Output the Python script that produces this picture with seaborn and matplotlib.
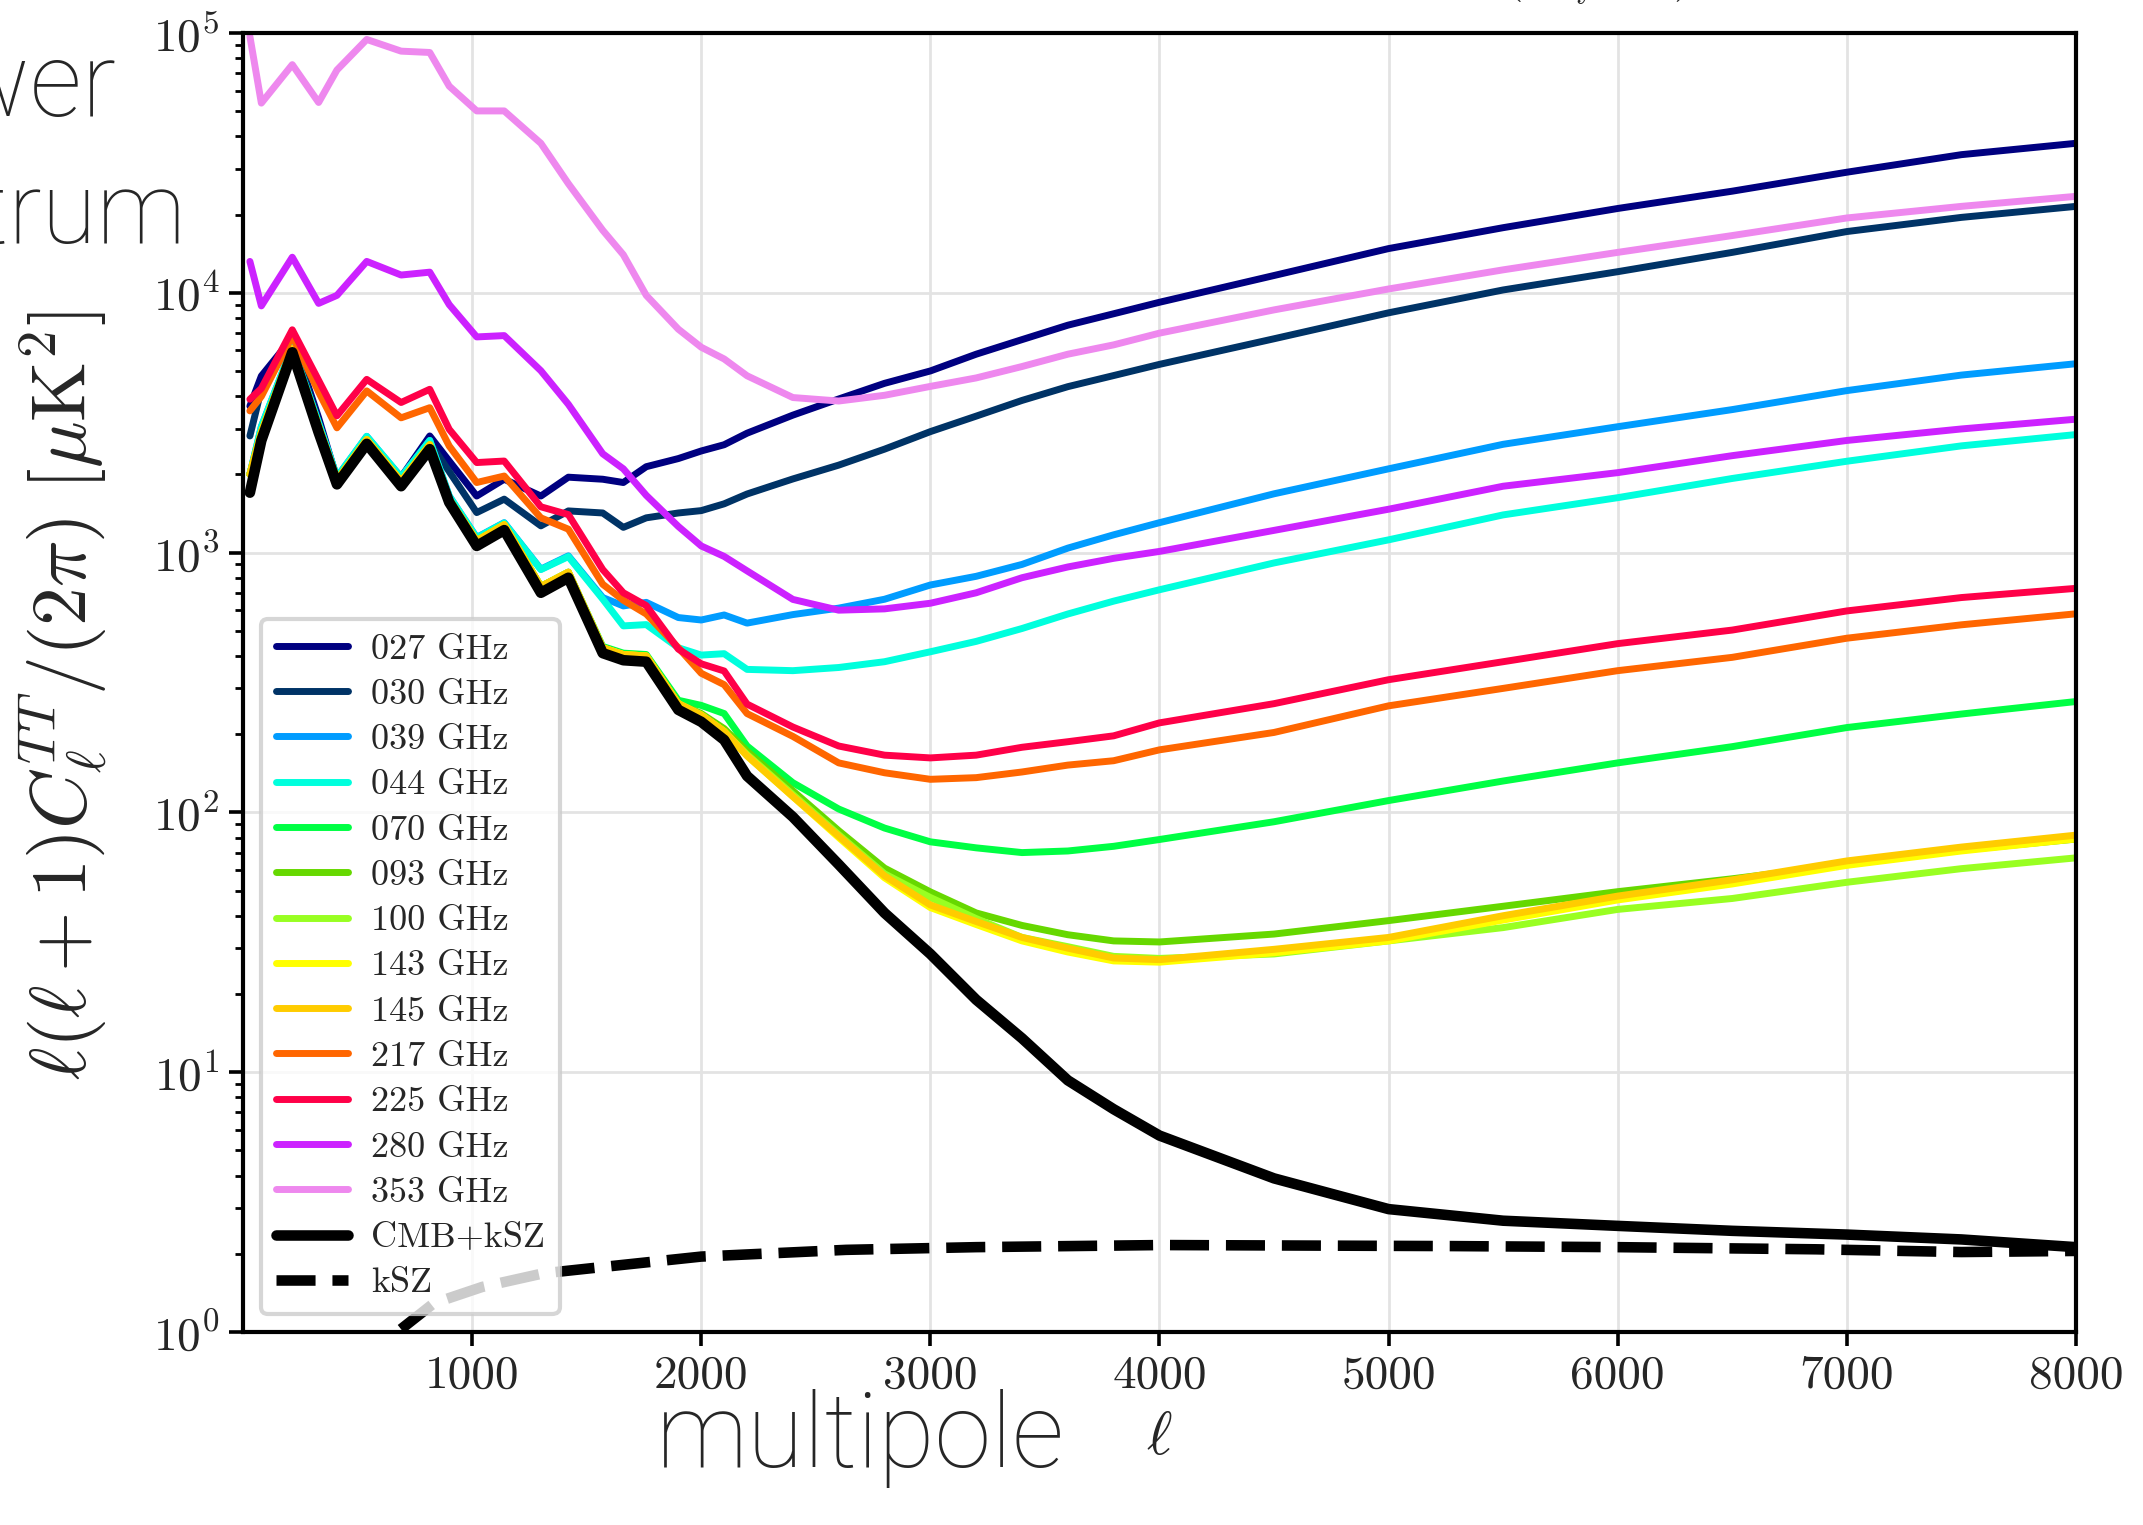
import numpy as np
import pandas as pd
import seaborn as sns
import matplotlib
matplotlib.use("Agg")
import matplotlib.pyplot as plt

ELL = [30, 80, 215, 330, 410, 540, 690, 815, 900, 1020, 1140, 1300, 1420, 1570, 1660,
       1760, 1900, 2000, 2100, 2200, 2400, 2600, 2800, 3000, 3200, 3400, 3600, 3800,
       4000, 4500, 5000, 5500, 6000, 6500, 7000, 7500, 8000]

FREQ_LABELS = ["027 GHz", "030 GHz", "039 GHz", "044 GHz", "070 GHz", "093 GHz", "100 GHz",
               "143 GHz", "145 GHz", "217 GHz", "225 GHz", "280 GHz", "353 GHz"]
FREQ_COLORS = ["#000080", "#003366", "#009cff", "#00ffdd", "#00ff44", "#66d800", "#99ff22",
               "#ffff00", "#ffcc00", "#ff6600", "#ff0048", "#cc22ff", "#ee88ee"]

c027 = [3660, 4780, 6710, 3300, 1915, 2690, 1950, 2810, 2250, 1650, 1915, 1650, 1950, 1915, 1860,
        2140, 2300, 2460, 2600, 2880, 3380, 3900, 4480, 5000, 5800, 6600, 7500, 8300,
        9190, 11650, 14790, 17800, 21100, 24600, 29100, 34000, 37600]
c030 = [2810, 4250, 6520, 3200, 1860, 2610, 1900, 2650, 2050, 1425, 1605, 1267, 1446, 1420, 1250,
        1360, 1420, 1450, 1540, 1680, 1920, 2170, 2500, 2920, 3350, 3850, 4350, 4800,
        5300, 6650, 8370, 10250, 12050, 14300, 17200, 19500, 21500]
c039 = [2000, 3050, 6200, 3150, 1950, 2800, 1950, 2700, 1650, 1143, 1303, 863, 971, 671, 623,
        643, 562, 550, 575, 535, 577, 611, 661, 750, 810, 900, 1040, 1170,
        1303, 1683, 2100, 2610, 3050, 3550, 4200, 4820, 5330]
c044 = [2000, 3050, 6200, 3150, 1950, 2800, 1950, 2700, 1650, 1140, 1300, 860, 965, 662, 522,
        528, 430, 403, 408, 355, 351, 361, 380, 415, 455, 510, 580, 650,
        719, 912, 1119, 1396, 1626, 1928, 2246, 2574, 2845]
c070 = [2000, 2900, 6100, 3050, 1900, 2720, 1880, 2600, 1600, 1110, 1280, 740, 840, 435, 410,
        405, 270, 258, 240, 180, 130, 103, 87, 77, 73, 70, 71, 74,
        78.6, 92, 111, 132, 155, 179, 212, 239, 267]
c093 = [2000, 2900, 6100, 3050, 1900, 2720, 1880, 2600, 1600, 1110, 1280, 740, 840, 430, 405,
        400, 262, 240, 210, 172, 121, 85, 61, 49.4, 41, 36.7, 33.8, 32,
        31.7, 34, 38.3, 43.5, 49.5, 55.5, 63, 71.6, 78.9]
c100 = [2000, 2900, 6100, 3050, 1900, 2720, 1880, 2600, 1600, 1110, 1280, 740, 840, 430, 405,
        400, 262, 237, 205, 167, 117, 82, 58, 47, 39, 33, 30.4, 27.9,
        27.4, 28.5, 32, 36, 42.3, 46.6, 53.8, 60.7, 66.8]
c143 = [2000, 2900, 6100, 3050, 1900, 2720, 1880, 2600, 1600, 1110, 1280, 740, 840, 430, 405,
        400, 262, 237, 205, 165, 115, 80, 56, 43, 37, 32, 29, 26.8,
        26.5, 28.8, 32, 38.5, 46, 53, 62.5, 71, 79]
c145 = [2000, 2900, 6100, 3050, 1900, 2720, 1880, 2600, 1600, 1110, 1280, 740, 840, 430, 405,
        400, 262, 237, 205, 165, 115, 81, 57, 44, 38, 33, 30, 27.5,
        27.1, 29.7, 33, 40, 47.6, 55, 65, 73.5, 81.7]
c217 = [3510, 3990, 6810, 4150, 3020, 4190, 3300, 3610, 2570, 1860, 1970, 1360, 1230, 755, 655,
        580, 430, 343, 310, 240, 196, 155, 142, 134, 136, 143, 152, 158,
        174, 203, 257, 300, 351, 395, 468, 527, 581]
c225 = [3890, 4280, 7200, 4600, 3360, 4640, 3780, 4250, 2980, 2220, 2250, 1500, 1400, 860, 700,
        625, 425, 373, 350, 261, 213, 180, 166, 162, 166, 178, 187, 197,
        221, 262, 324, 380, 446, 503, 596, 671, 728]
c280 = [13200, 8900, 13700, 9100, 9770, 13200, 11700, 12000, 9000, 6760, 6840, 5010, 3720, 2400, 2100,
        1660, 1260, 1060, 966, 850, 660, 600, 607, 638, 700, 800, 880, 950,
        1010, 1217, 1468, 1800, 2030, 2360, 2700, 2990, 3260]
c353 = [97000, 53700, 75500, 54000, 72000, 94400, 85100, 84100, 62400, 50100, 50100, 37600, 26300, 17400, 14000,
        9770, 7240, 6170, 5560, 4790, 3950, 3830, 4030, 4360, 4700, 5200, 5800, 6300,
        6990, 8590, 10340, 12250, 14300, 16600, 19400, 21500, 23500]

cmb_ksz = [1700, 2700, 5900, 2900, 1830, 2620, 1800, 2500, 1560, 1060, 1220, 700, 800, 410, 385,
           380, 248, 223, 190, 138, 96, 63, 41, 28.5, 19, 13.5, 9.3, 7.2,
           5.7, 3.9, 2.97, 2.68, 2.56, 2.45, 2.37, 2.27, 2.12]

KSZ_ELL = [500, 674, 833, 1044, 1309, 1575, 2000, 2632, 3200, 4007, 5278, 6000, 6866, 7500, 8000]
ksz = [0.75, 1.0, 1.29, 1.49, 1.68, 1.78, 1.95, 2.07, 2.12, 2.16, 2.14, 2.12, 2.08, 2.03, 2.05]

XTICKS = [1000, 2000, 3000, 4000, 5000, 6000, 7000, 8000]

freq_series = [c027, c030, c039, c044, c070, c093, c100, c143, c145, c217, c225, c280, c353]

sns.set_theme(style="whitegrid")
plt.rcParams["font.family"] = "serif"
plt.rcParams["font.serif"] = ["cmr10", "DejaVu Serif"]
plt.rcParams["mathtext.fontset"] = "cm"
plt.rcParams["axes.formatter.use_mathtext"] = True

fig = plt.figure(figsize=(2143 / 200, 1525 / 200), dpi=200)
ax = fig.add_axes([0.1134, 0.1266, 0.9687 - 0.1134, 0.9784 - 0.1266])

for label, color, vals in zip(FREQ_LABELS, FREQ_COLORS, freq_series):
    df = pd.DataFrame({"ell": ELL, "cl": vals})
    sns.lineplot(data=df, x="ell", y="cl", color=color, lw=2.5, label=label,
                 sort=False, estimator=None, ax=ax)

df = pd.DataFrame({"ell": ELL, "cl": cmb_ksz})
sns.lineplot(data=df, x="ell", y="cl", color="black", lw=3.8, label="CMB+kSZ",
             sort=False, estimator=None, ax=ax)
df = pd.DataFrame({"ell": KSZ_ELL, "cl": ksz})
sns.lineplot(data=df, x="ell", y="cl", color="black", lw=3.8, ls="--", label="kSZ",
             sort=False, estimator=None, ax=ax)

ax.set_yscale("log")
ax.set_xlim(0, 8000)
ax.set_ylim(1, 1e5)
ax.set_xticks(XTICKS)
ax.set_xticklabels([str(t) for t in XTICKS])

ax.set_facecolor("white")
ax.grid(True, which="major", color="#e3e3e3", lw=1.0)
ax.grid(False, which="minor")
for sp in ax.spines.values():
    sp.set_color("black")
    sp.set_linewidth(1.5)
ax.tick_params(axis="both", which="major", direction="out", length=5, width=1.3,
               labelsize=17, color="black", bottom=True, left=True)
ax.tick_params(axis="y", which="minor", direction="out", length=3, width=1.0,
               color="black", left=True)

ax.set_xlabel(r"$\ell$", fontsize=22, labelpad=5)
ax.set_ylabel(r"$\ell(\ell+1)C_\ell^{TT}/(2\pi)\ [\mu\mathrm{K}^2]$", fontsize=28)
ax.yaxis.set_label_coords(-0.073, 0.49)

leg = ax.legend(loc="lower left", fontsize=13, frameon=True, framealpha=0.8,
                edgecolor="#cccccc", fancybox=True, handlelength=2.0,
                labelspacing=0.36, handletextpad=0.65)
leg.get_frame().set_linewidth(1.5)

# title of the original figure, cut off by the crop
fig.text(0.545, 1.0 + 10 / 1525, r"Simulated total sky of each channel map $(y_{\rm sky}=1)$",
         ha="center", va="baseline", fontsize=17)

# slide overlay text
fig.text(116 / 2143, 1 - 116 / 1525, "Power", ha="right", va="baseline",
         fontsize=37, family="Roboto", weight="light")
fig.text(187 / 2143, 1 - 243 / 1525, "spectrum", ha="right", va="baseline",
         fontsize=36, family="Roboto", weight="light")
fig.text(656 / 2143, 1 - 1467 / 1525, "multipole", ha="left", va="baseline",
         fontsize=37, family="Roboto", weight="light")

fig.savefig("out.png", dpi=200)
